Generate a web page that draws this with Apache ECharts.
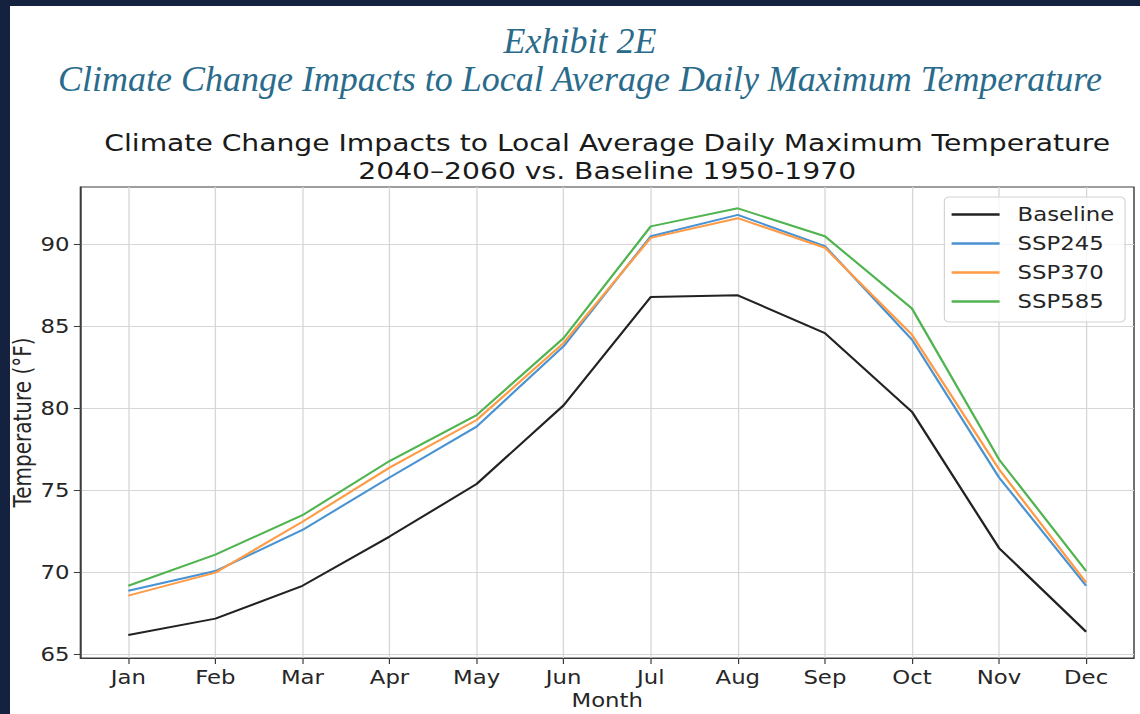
<!DOCTYPE html>
<html>
<head>
<meta charset="utf-8">
<script src="https://cdn.jsdelivr.net/npm/echarts@6/dist/echarts.min.js"></script>
<style>
  html, body { margin: 0; padding: 0; background: #fff; overflow: hidden; }
  /* the exhibit's chart image is stretched sideways, so draw narrow and stretch */
  #main { width: 950px; height: 714px; transform: scaleX(1.2); transform-origin: 0 0; }
</style>
</head>
<body>
<div id="main"></div>
<script>
// monthly average daily max temperature, deg F
var months = ['Jan', 'Feb', 'Mar', 'Apr', 'May', 'Jun', 'Jul', 'Aug', 'Sep', 'Oct', 'Nov', 'Dec'];
var baseline = [66.2, 67.2, 69.2, 72.2, 75.4, 80.2, 86.8, 86.9, 84.6, 79.8, 71.5, 66.4];
var ssp245 = [68.9, 70.1, 72.6, 75.8, 78.9, 83.8, 90.5, 91.8, 89.9, 84.2, 75.8, 69.2];
var ssp370 = [68.6, 70.0, 73.1, 76.4, 79.3, 84.0, 90.4, 91.6, 89.8, 84.5, 76.3, 69.4];
var ssp585 = [69.2, 71.1, 73.5, 76.8, 79.6, 84.3, 91.1, 92.2, 90.5, 86.1, 76.9, 70.1];
var tempTicks = [65, 70, 75, 80, 85, 90];

var STRETCH = 1.2;
var monthIdx = months.map(function (m, i) { return i; });
function pairs(vals) {
  return vals.map(function (v, i) { return [i, v]; });
}

var sans = 'DejaVu Sans';
var txt = '#262626';
var spine = '#3c3c3c';
var navy = '#14213f';

var chart = echarts.init(document.getElementById('main'), null, { renderer: 'svg' });

function line(name, vals, color) {
  return {
    name: name,
    type: 'line',
    data: pairs(vals),
    symbol: 'none',
    lineStyle: { color: color, width: 2 },
    itemStyle: { color: color },
    emphasis: { disabled: true }
  };
}

// page heading is not stretched, so undo the stretch on it
function heading(text, y) {
  return {
    type: 'text', x: 580 / STRETCH, y: y, scaleX: 1 / STRETCH,
    style: {
      text: text, align: 'center', verticalAlign: 'middle',
      font: 'italic 36px "Liberation Serif"', fill: '#2a6b8c'
    }
  };
}

var option = {
  animation: false,
  backgroundColor: '#fff',
  graphic: [
    // page frame sits over the chart image (clips the y label a little)
    { type: 'rect', z: 100, shape: { x: 0, y: 0, width: 950, height: 6 }, style: { fill: navy } },
    { type: 'rect', z: 100, shape: { x: 0, y: 0, width: 10 / STRETCH, height: 714 }, style: { fill: navy } },
    heading('Exhibit 2E', 41),
    heading('Climate Change Impacts to Local Average Daily Maximum Temperature', 79),
    {
      type: 'text', x: 506, y: 157,
      style: {
        text: 'Climate Change Impacts to Local Average Daily Maximum Temperature\n2040\u20132060 vs. Baseline 1950-1970',
        align: 'center', verticalAlign: 'middle', lineHeight: 28,
        font: '23.5px "DejaVu Sans"', fill: '#1a1a1a'
      }
    }
  ],
  grid: {
    left: 67, right: 5, top: 187, bottom: 56,
    outerBoundsMode: 'none',
    show: true, borderColor: spine, borderWidth: 1.2
  },
  legend: {
    orient: 'vertical',
    left: 787, top: 197,
    padding: [8, 9, 11, 6],
    icon: 'rect',
    itemWidth: 40, itemHeight: 2.5, itemGap: 10,
    backgroundColor: 'rgba(255,255,255,0.8)',
    borderColor: '#d4d4d4', borderWidth: 1, borderRadius: 4,
    textStyle: { fontFamily: sans, fontSize: 19, color: txt, lineHeight: 19, padding: [0, 0, 0, 10] },
    data: ['Baseline', 'SSP245', 'SSP370', 'SSP585']
  },
  xAxis: {
    type: 'value',
    min: -0.55, max: 11.55,
    name: 'Month', nameLocation: 'middle', nameGap: 33, nameMoveOverlap: false,
    nameTextStyle: { fontFamily: sans, fontSize: 19, color: txt },
    axisLine: { show: true, onZero: false, lineStyle: { color: spine, width: 1.2 } },
    axisTick: { show: true, length: 6, customValues: monthIdx, lineStyle: { color: spine } },
    axisLabel: {
      customValues: monthIdx, margin: 10,
      fontFamily: sans, fontSize: 19, color: txt,
      formatter: function (v) { return months[Math.round(v)]; }
    },
    splitLine: { show: true, lineStyle: { color: '#d6d6d6', width: 1.1 } }
  },
  yAxis: {
    type: 'value',
    min: 64.8, max: 93.5,
    name: 'Temperature (\u00b0F)', nameLocation: 'middle', nameGap: 38.5, nameRotate: 90,
    nameMoveOverlap: false,
    nameTextStyle: { fontFamily: sans, fontSize: 20, color: txt },
    axisLine: { show: true, onZero: false, lineStyle: { color: spine, width: 1.2 } },
    axisTick: { show: true, length: 5.5, customValues: tempTicks, lineStyle: { color: spine } },
    axisLabel: { customValues: tempTicks, margin: 9, fontFamily: sans, fontSize: 19, color: txt },
    splitLine: { show: true, lineStyle: { color: '#d6d6d6', width: 1.2 } }
  },
  series: [
    line('Baseline', baseline, '#222222'),
    line('SSP245', ssp245, '#4a93d2'),
    line('SSP370', ssp370, '#ff9a45'),
    line('SSP585', ssp585, '#50b450')
  ]
};

chart.setOption(option);
</script>
</body>
</html>
